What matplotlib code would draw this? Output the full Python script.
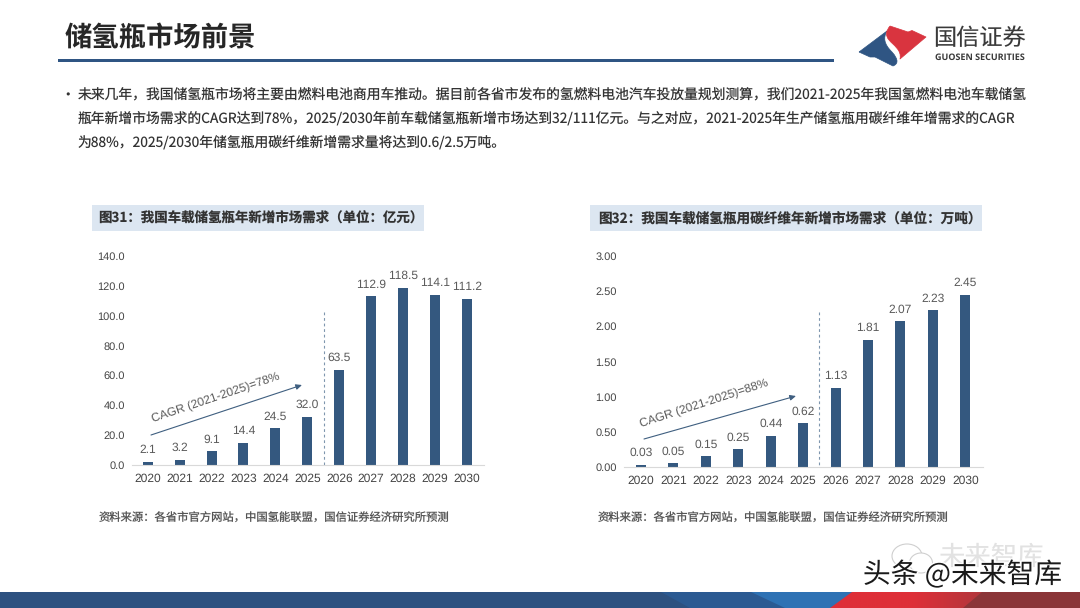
import numpy as np
import matplotlib
matplotlib.use("Agg")
import matplotlib.pyplot as plt
import matplotlib.patheffects as pe
from matplotlib.colors import LinearSegmentedColormap
from matplotlib.path import Path
from matplotlib.patches import Polygon, Rectangle, Ellipse, PathPatch

plt.rcParams['font.family'] = ['Noto Sans CJK SC', 'DejaVu Sans']
plt.rcParams['text.hinting'] = 'none'
plt.rcParams['text.hinting_factor'] = 1

# ---- data ----
years = ['2020', '2021', '2022', '2023', '2024', '2025', '2026', '2027', '2028', '2029', '2030']
market_values = [2.1, 3.2, 9.1, 14.4, 24.5, 32.0, 63.5, 112.9, 118.5, 114.1, 111.2]
fiber_values = [0.03, 0.05, 0.15, 0.25, 0.44, 0.62, 1.13, 1.81, 2.07, 2.23, 2.45]
market_ticks = [0, 20, 40, 60, 80, 100, 120, 140]
fiber_ticks = [0, 0.5, 1.0, 1.5, 2.0, 2.5, 3.0]
main_title = '储氢瓶市场前景'
body_lines = [
    '未来几年，我国储氢瓶市场将主要由燃料电池商用车推动。据目前各省市发布的氢燃料电池汽车投放量规划测算，我们2021-2025年我国氢燃料电池车载储氢',
    '瓶年新增市场需求的CAGR达到78%，2025/2030年前车载储氢瓶新增市场达到32/111亿元。与之对应，2021-2025年生产储氢瓶用碳纤维年增需求的CAGR',
    '为88%，2025/2030年储氢瓶用碳纤维新增需求量将达到0.6/2.5万吨。',
]
market_title = '图31：我国车载储氢瓶年新增市场需求（单位：亿元）'
fiber_title = '图32：我国车载储氢瓶用碳纤维年新增市场需求（单位：万吨）'
source_text = '资料来源：各省市官方网站，中国氢能联盟，国信证券经济研究所预测'

W, H = 1080, 608
BAR = '#34587F'
GREY = '#5A5A5A'
fig = plt.figure(figsize=(W / 100, H / 100), dpi=100, facecolor='white')

bg = fig.add_axes([0, 0, 1, 1])
bg.set_xlim(0, W)
bg.set_ylim(H, 0)
bg.axis('off')

# header
bg.text(65, 39, main_title, fontsize=19.7, fontweight='bold', color='#262626', va='center', ha='left')
bg.add_patch(Rectangle((58, 58.5), 776, 3.5, color='#2F5583', lw=0))

# logo: two lobes separated by a white S curve
C4, L, M = Path.CURVE4, Path.LINETO, Path.MOVETO
blue = Path([(859, 52), (887, 31), (883, 38), (884, 44), (892, 52), (899, 60), (898, 64), (893, 66),
             (875, 57), (870, 57), (859, 52)],
            [M, L, C4, C4, C4, C4, C4, C4, L, L, L])
red = Path([(890, 26), (908, 32), (912, 30.5), (926, 37), (900, 59), (902, 50), (893, 45), (889, 40), (885, 35), (886, 31), (890, 26)],
           [M, L, L, L, L, C4, C4, C4, C4, C4, C4])
bg.add_patch(PathPatch(blue, fc='#2F5583', ec='#2F5583', lw=0.5, joinstyle='round'))
bg.add_patch(PathPatch(red, fc='#D9343F', ec='#D9343F', lw=0.5, joinstyle='round'))
bg.text(979.5, 39, '国信证券', fontsize=16.7, fontweight='medium', color='#3A3A3A', ha='center', va='center')
bg.text(980, 58, 'GUOSEN SECURITIES', fontsize=6.5, fontweight='bold', color='#3A3A3A',
        ha='center', va='center', family=['Open Sans', 'DejaVu Sans'])

# body text
bg.text(64.5, 95, '•', fontsize=8, color='#333333', ha='left', va='center', family='DejaVu Sans')
for y, line in zip([95, 119, 143], body_lines):
    bg.text(78, y, line, fontsize=9.95, color='#333333', ha='left', va='center')

# chart title bands and sources
bg.add_patch(Rectangle((92, 205), 331.5, 25.5, color='#DCE6F1', lw=0))
bg.add_patch(Rectangle((590, 205), 391.5, 25.5, color='#DCE6F1', lw=0))
bg.text(98, 218.5, market_title, fontsize=9.7, fontweight='bold', color='#333333', va='center')
bg.text(598, 218.5, fiber_title, fontsize=9.8, fontweight='bold', color='#333333', va='center')
bg.text(99, 518.5, source_text, fontsize=8.15, color='#555555', va='center')
bg.text(598, 518.5, source_text, fontsize=8.15, color='#555555', va='center')


def panel(x0, x1, ytop, ybot, first, step, values, ticks, ymax, tickfmt, valfmt, ann, arrow_px, text_px, angle, vline_px):
    ax = fig.add_axes([x0 / W, 1 - ybot / H, (x1 - x0) / W, (ybot - ytop) / H])
    ax.patch.set_alpha(0)
    ax.set_xlim((x0 - first) / step, (x1 - first) / step)
    ax.set_ylim(0, ymax)
    xs = np.arange(len(years))
    ax.bar(xs, values, width=10 / step, color=BAR, linewidth=0)
    for x, v in zip(xs, values):
        ax.annotate(valfmt.format(v), (x, v), xytext=(0, 4.5), textcoords='offset points',
                    ha='center', va='bottom', fontsize=8.7, color=GREY, family='Liberation Sans')
    for s in ['top', 'right', 'left']:
        ax.spines[s].set_visible(False)
    ax.spines['bottom'].set_color('#D9D9D9')
    ax.spines['bottom'].set_linewidth(0.8)
    ax.set_xticks(xs)
    ax.set_xticklabels(years, fontsize=8.5, color='#444444', family='Liberation Sans')
    ax.set_yticks(ticks)
    ax.set_yticklabels([tickfmt.format(t) for t in ticks], fontsize=8, color='#444444', family='Liberation Sans')
    ax.tick_params(length=0, axis='both')
    ax.tick_params(axis='x', pad=6)
    ax.tick_params(axis='y', pad=5)
    # forecast divider and CAGR arrow are positioned in page pixels
    bg.plot([vline_px, vline_px], [312, ybot], color='#7F96AE', lw=0.8, ls=(0, (2.5, 2.5)))
    bg.annotate('', xy=arrow_px[1], xytext=arrow_px[0],
                arrowprops=dict(arrowstyle='-|>,head_length=0.35,head_width=0.16', color='#3F5F80', lw=0.8,
                                shrinkA=0, shrinkB=0))
    bg.text(text_px[0], text_px[1], ann, fontsize=8.35, color=GREY, rotation=angle, rotation_mode='anchor',
            ha='center', va='center', family='Liberation Sans')


panel(131.7, 484, 256, 464.7, 147.7, 31.93, market_values, market_ticks, 140, '{:.1f}', '{:.1f}',
      'CAGR (2021-2025)=78%', ((151, 435), (302, 385)), (215.5, 398), 18.7, 323.7)
panel(624, 983, 256, 467, 641, 32.43, fiber_values, fiber_ticks, 3.0, '{:.2f}', '{:.2f}',
      'CAGR (2021-2025)=88%', ((644, 439), (796, 396)), (704.5, 404), 18, 819.3)

# footer band: flat blue, slanted lighter blues, red wedge, dark red
band_top, band_bot = 592, 608
bg.add_patch(Rectangle((0, band_top), W, band_bot - band_top, color='#2D5180', lw=0, zorder=1))
bg.add_patch(Polygon([(661, band_top), (W, band_top), (W, band_bot), (690, band_bot)], color='#2B5A92', lw=0, zorder=1.1))
bg.add_patch(Polygon([(751, band_top), (W, band_top), (W, band_bot), (785, band_bot)], color='#2E72B4', lw=0, zorder=1.2))
red_cmap = LinearSegmentedColormap.from_list('band', ['#DE2F38', '#DE2F38', '#A8383D', '#A8383D'])
img = bg.imshow(np.linspace(0, 1, 256)[None, :], extent=(830, W, band_bot, band_top), cmap=red_cmap, aspect='auto', zorder=1.3)
clip = Polygon([(852, band_top), (W, band_top), (W, band_bot), (830, band_bot)], transform=bg.transData, fc='none', lw=0)
bg.add_patch(clip)
img.set_clip_path(clip)
bg.add_patch(Polygon([(982, band_top), (W, band_top), (W, band_bot), (963, band_bot)], color='#8A3538', lw=0, zorder=1.4))
bg.set_xlim(0, W)
bg.set_ylim(H, 0)

# watermarks
bg.text(990.5, 557, '未来智库', fontsize=19, color='#E2E2E2', ha='center', va='center', zorder=3)
bg.add_patch(Ellipse((907, 556), 30, 24, fc='white', ec='#CFCFCF', lw=0.8, zorder=3))
bg.add_patch(Ellipse((921, 563), 23, 20, fc='white', ec='#CFCFCF', lw=0.8, zorder=3))
bg.text(962.5, 575, '头条 @未来智库', fontsize=20, color='#1A1A1A', ha='center', va='center', zorder=4,
        path_effects=[pe.withStroke(linewidth=2, foreground='white')])

fig.savefig('out.png', dpi=100)
